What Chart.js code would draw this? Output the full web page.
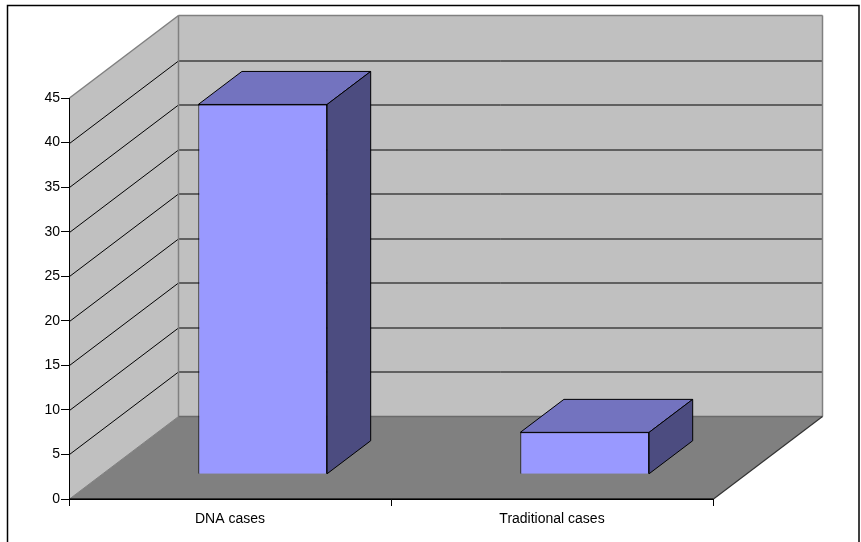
<!DOCTYPE html>
<html>
<head>
<meta charset="utf-8">
<title>DNA cases vs Traditional cases</title>
<script src="https://cdn.jsdelivr.net/npm/chart.js@4/dist/chart.umd.min.js"></script>
<style>
  html, body { margin: 0; padding: 0; background: #ffffff; }
  canvas { display: block; }
</style>
</head>
<body>
<canvas id="chart" width="861" height="542"></canvas>
<script>
// Data
const categories = ['DNA cases', 'Traditional cases'];
const caseCounts = [41.5, 4.7];
const yMin = 0;
const yMax = 45;
const yStep = 5;

// Oblique projection of the box: how far the back of the plot sits from the front
const DEPTH = { dx: 109, dy: -82.5 };
// Where each column sits within that depth (fractions front -> back)
const COLUMN_DEPTH = { front: 0.3, back: 0.7 };

const COLORS = {
  wall: '#c0c0c0',
  wallEdge: '#808080',
  floor: '#808080',
  floorEdge: '#333333',
  grid: '#000000',
  barFront: '#9999ff',
  barTop: '#7373bf',
  barSide: '#4c4c80',
  barEdge: '#000000'
};

Chart.defaults.font.family = "'Liberation Sans', Arial, Helvetica, sans-serif";
Chart.defaults.color = '#000000';

function poly(ctx, pts, fill, stroke, lw) {
  ctx.beginPath();
  ctx.moveTo(pts[0][0], pts[0][1]);
  for (let i = 1; i < pts.length; i++) ctx.lineTo(pts[i][0], pts[i][1]);
  ctx.closePath();
  if (fill) { ctx.fillStyle = fill; ctx.fill(); }
  if (stroke) { ctx.strokeStyle = stroke; ctx.lineWidth = lw || 1; ctx.stroke(); }
}

function line(ctx, x1, y1, x2, y2, color, lw) {
  ctx.beginPath();
  ctx.moveTo(x1, y1);
  ctx.lineTo(x2, y2);
  ctx.strokeStyle = color;
  ctx.lineWidth = lw || 1;
  ctx.stroke();
}

// Walls, floor, gridlines and outer frame, behind the axes
const box3d = {
  id: 'box3d',
  beforeDraw(chart) {
    const { ctx, chartArea: a, scales } = chart;
    const ys = scales.y;
    const dx = DEPTH.dx, dy = DEPTH.dy;
    const top = ys.getPixelForValue(yMax);
    const bottom = ys.getPixelForValue(yMin);
    const L = a.left + 0.5, R = a.right + 0.5;
    ctx.save();
    ctx.fillStyle = '#ffffff';
    ctx.fillRect(0, 0, chart.width, chart.height);

    // outer frame
    ctx.strokeStyle = '#000000';
    ctx.lineWidth = 1.5;
    ctx.strokeRect(7.5, 5.5, 851.5, 600);

    // side wall (left)
    poly(ctx, [[L, bottom], [L, top], [L + dx, top + dy], [L + dx, bottom + dy]], COLORS.wall);
    // back wall
    poly(ctx, [[L + dx, top + dy], [R + dx, top + dy], [R + dx, bottom + dy], [L + dx, bottom + dy]], COLORS.wall);
    // floor
    poly(ctx, [[L, bottom], [R, bottom], [R + dx, bottom + dy], [L + dx, bottom + dy]], COLORS.floor);

    // gridlines on the walls at each tick
    ys.ticks.forEach(t => {
      if (t.value === yMin || t.value === yMax) return;
      const py = Math.round(ys.getPixelForValue(t.value)) + 0.5;
      line(ctx, L, py, L + dx, py + dy, COLORS.grid, 1);
      line(ctx, L + dx, py + dy, R + dx, py + dy, COLORS.grid, 1);
    });

    // wall and floor edges
    line(ctx, L, top, L + dx, top + dy, COLORS.wallEdge, 1.5);
    line(ctx, L + dx, top + dy, R + dx, top + dy, COLORS.wallEdge, 1.5);
    line(ctx, R + dx, top + dy, R + dx, bottom + dy, COLORS.wallEdge, 1.5);
    line(ctx, L + dx, top + dy, L + dx, bottom + dy, COLORS.wallEdge, 1.5);
    line(ctx, L, bottom, L + dx, bottom + dy, COLORS.wallEdge, 1);
    line(ctx, L + dx, bottom + dy, R + dx, bottom + dy, '#6a6a6a', 1.5);
    line(ctx, R, bottom, R + dx, bottom + dy, COLORS.floorEdge, 1.2);
    line(ctx, L, bottom, R, bottom, COLORS.floorEdge, 2);
    ctx.restore();
  },
  // shift the front faces of the columns into the middle of the depth
  beforeDatasetsDraw(chart) {
    const ctx = chart.ctx;
    ctx.save();
    ctx.translate(DEPTH.dx * COLUMN_DEPTH.front, DEPTH.dy * COLUMN_DEPTH.front);
  },
  // top and right faces of each column, in the same shifted frame
  afterDatasetsDraw(chart) {
    const ctx = chart.ctx;
    const span = COLUMN_DEPTH.back - COLUMN_DEPTH.front;
    const bdx = DEPTH.dx * span, bdy = DEPTH.dy * span;
    chart.getSortedVisibleDatasetMetas().forEach(meta => {
      meta.data.forEach(bar => {
        const p = bar.getProps(['x', 'y', 'base', 'width'], true);
        const l = p.x - p.width / 2, r = p.x + p.width / 2;
        const t = p.y, b = p.base;
        poly(ctx, [[l, t], [l + bdx, t + bdy], [r + bdx, t + bdy], [r, t]], COLORS.barTop, COLORS.barEdge, 1);
        poly(ctx, [[r, t], [r + bdx, t + bdy], [r + bdx, b + bdy], [r, b]], COLORS.barSide, COLORS.barEdge, 1);
      });
    });
    ctx.restore();
  }
};

new Chart(document.getElementById('chart'), {
  type: 'bar',
  data: {
    labels: categories,
    datasets: [{
      label: 'Cases',
      data: caseCounts,
      backgroundColor: COLORS.barFront,
      borderColor: COLORS.barEdge,
      borderWidth: 1,
      barPercentage: 0.4,
      categoryPercentage: 1.0,
      clip: false
    }]
  },
  options: {
    responsive: false,
    animation: false,
    devicePixelRatio: 1,
    layout: { padding: { left: 0, right: 148, top: 98, bottom: 0 } },
    plugins: {
      legend: { display: false },
      tooltip: { enabled: false },
      title: { display: false }
    },
    scales: {
      x: {
        type: 'category',
        offset: true,
        grid: { offset: true, drawOnChartArea: false, color: '#000000', tickLength: 7 },
        border: { color: '#000000', width: 1 },
        ticks: { color: '#000000', font: { size: 14 }, padding: 5, maxRotation: 0 },
        afterFit(s) { s.height = 43; }
      },
      y: {
        min: yMin,
        max: yMax,
        grid: { drawOnChartArea: false, color: '#000000', tickLength: 8 },
        border: { color: '#000000', width: 1 },
        ticks: { stepSize: yStep, color: '#000000', font: { size: 14 }, padding: 1 },
        afterFit(s) { s.width = 69; }
      }
    }
  },
  plugins: [box3d]
});
</script>
</body>
</html>
